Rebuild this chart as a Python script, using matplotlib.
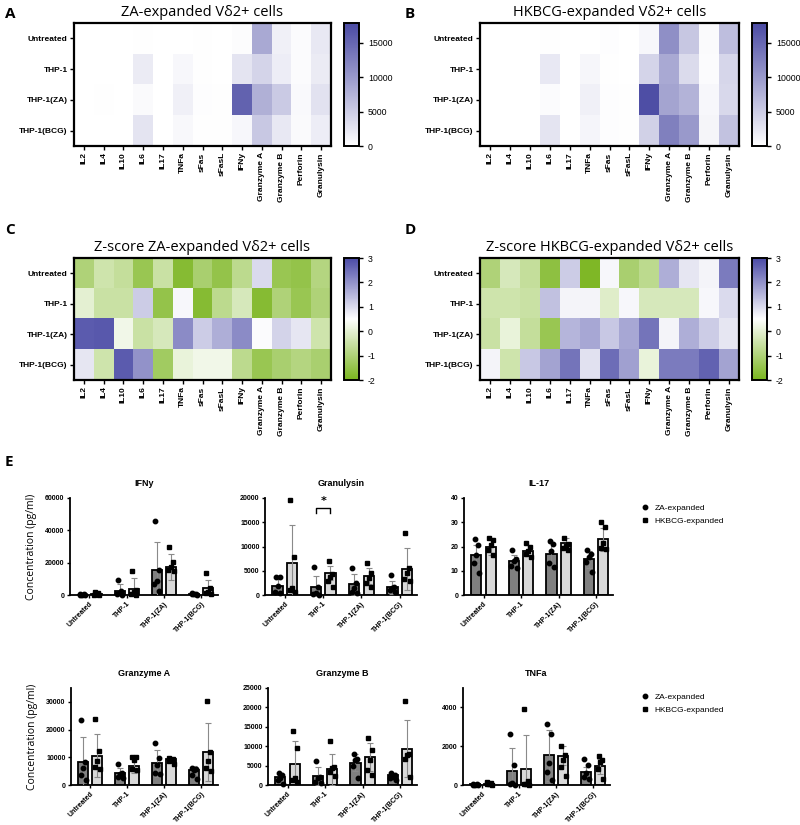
import numpy as np
import matplotlib.pyplot as plt
from matplotlib.colors import LinearSegmentedColormap
from matplotlib.lines import Line2D

plt.rcParams['axes.unicode_minus'] = False

cytokines = ['IL2', 'IL4', 'IL10', 'IL6', 'IL17', 'TNFa', 'sFas', 'sFasL', 'IFNy',
             'Granzyme A', 'Granzyme B', 'Perforin', 'Granulysin']
conditions = ['Untreated', 'THP-1', 'THP-1(ZA)', 'THP-1(BCG)']

# mean concentrations (pg/ml), rows = conditions
za_conc = [[30, 60, 20, 100, 20, 30, 120, 60, 300, 8400, 1500, 400, 2300],
           [30, 60, 20, 2000, 15, 730, 100, 50, 2700, 4200, 1700, 400, 2000],
           [60, 80, 25, 500, 20, 1500, 150, 80, 15500, 7800, 5200, 600, 2800],
           [35, 60, 40, 2600, 15, 650, 130, 70, 800, 5400, 2200, 500, 1700]]
bcg_conc = [[30, 50, 20, 100, 20, 60, 150, 60, 800, 11000, 5500, 500, 6400],
            [30, 50, 20, 2200, 20, 850, 130, 60, 4200, 8500, 3500, 400, 4000],
            [40, 50, 20, 400, 20, 1500, 150, 70, 17400, 9000, 7500, 700, 3800],
            [50, 50, 40, 2600, 25, 970, 200, 80, 4500, 12500, 10000, 1000, 6000]]

# z-scores
za_z = [[-1.0, -0.4, -0.6, -1.4, -0.5, -1.75, -1.1, -1.5, -0.75, 1.0, -1.4, -1.5, -0.9],
        [0.0, -0.5, -0.5, 1.2, -1.5, 0.6, -1.75, -0.75, -0.25, -1.75, -1.0, -1.4, -1.0],
        [2.75, 2.8, 0.25, -0.5, -0.25, 2.1, 1.2, 1.6, 2.1, 0.55, 1.1, 0.85, -0.4],
        [0.85, -0.4, 2.75, 2.0, -1.25, 0.1, 0.25, 0.25, -0.75, -1.4, -1.1, -0.9, -1.1]]
bcg_z = [[-1.0, -0.25, -0.6, -1.6, 1.2, -1.9, 0.6, -1.1, -0.75, 1.6, 0.85, 0.65, 2.3],
         [-0.4, -0.4, -0.5, 1.35, 0.65, 0.65, -0.1, 0.6, -0.25, -0.25, -0.25, 0.6, 1.0],
         [-0.5, 0.1, -0.6, -1.4, 1.5, 1.7, 1.25, 1.7, 2.4, 0.65, 1.6, 1.2, 0.85],
         [0.65, -0.4, 1.25, 1.75, 2.4, 0.9, 2.5, 1.8, 0.1, 2.3, 2.3, 2.65, 1.75]]

# panel E: donors, means, SD (ZA-expanded / HKBCG-expanded)
ifny_za_pts = [[700, 500, 300, 100, 0], [9300, 2500, 1000, 400, 0],
               [45500, 15500, 8700, 6600, 2500], [1500, 900, 700, 500, 300]]
ifny_za_mean = [300, 2500, 15500, 800]
ifny_za_sd = [300, 4100, 17200, 500]
ifny_bcg_pts = [[2000, 1200, 800, 300, 0], [15100, 3100, 1650, 400, 0],
                [29400, 20700, 17400, 15500, 15100], [13400, 4500, 2000, 1000, 400]]
ifny_bcg_mean = [900, 3700, 17400, 4500]
ifny_bcg_sd = [900, 6650, 7850, 4800]

gran_za_pts = [[3800, 3800, 1950, 700, 350], [5700, 1750, 350, 150, 0],
               [5600, 2450, 1400, 700, 350], [4200, 1750, 1400, 1000, 700]]
gran_za_mean = [1950, 1750, 2200, 1600]
gran_za_sd = [1500, 2250, 2200, 1300]
gran_bcg_pts = [[19600, 7800, 1400, 1000, 700], [7100, 4400, 3800, 2800, 1750],
                [6700, 4500, 3500, 2450, 1750], [12700, 5550, 4500, 3300, 2800]]
gran_bcg_mean = [6500, 4500, 3900, 5400]
gran_bcg_sd = [7900, 1500, 1700, 4300]

il17_za_pts = [[22.9, 20.8, 16.4, 13, 8.9], [18.5, 15, 14, 12, 11],
               [22.2, 21.2, 18.2, 13.4, 11.6], [18.5, 17.1, 15.8, 13.7, 9.3]]
il17_za_mean = [16.7, 14.0, 17.1, 14.8]
il17_za_sd = [3.8, 2.7, 4.5, 3.5]
il17_bcg_pts = [[23.3, 22.6, 20.5, 18.5, 16.7], [21.5, 20, 18, 17, 15.5],
                [23.7, 21.2, 20.3, 19.2, 18.5], [30.1, 28.1, 21.6, 19.2, 18.9]]
il17_bcg_mean = [19.9, 18.3, 21.6, 22.9]
il17_bcg_sd = [3.4, 2.4, 2.0, 4.9]

gzma_za_pts = [[23500, 8400, 6300, 3600, 1800], [7500, 4500, 3900, 3000, 2400],
               [15300, 9900, 7200, 4200, 3900], [6000, 5700, 5400, 3600, 2000]]
gzma_za_mean = [8400, 4200, 7800, 5400]
gzma_za_sd = [8800, 2100, 4800, 1500]
gzma_bcg_pts = [[23900, 12300, 8800, 6600, 5700], [10200, 10000, 9000, 5800, 5400],
                [9800, 9500, 9000, 8500, 7500], [30400, 12000, 8800, 6000, 5200]]
gzma_bcg_mean = [10600, 7000, 9300, 12000]
gzma_bcg_sd = [7800, 2500, 400, 10400]

gzmb_za_pts = [[3000, 2600, 1900, 1300, 250], [6200, 2100, 1700, 850, 400],
               [7900, 6800, 6400, 4900, 1900], [3200, 2600, 2100, 1700, 1300]]
gzmb_za_mean = [2100, 2300, 5700, 2600]
gzmb_za_sd = [1000, 2400, 2200, 600]
gzmb_bcg_pts = [[13900, 9600, 1700, 1300, 850], [11300, 4700, 4300, 3400, 2300],
                [12200, 9000, 6500, 3800, 2600], [21600, 8100, 7700, 6800, 2100]]
gzmb_bcg_mean = [5300, 4000, 7300, 9400]
gzmb_bcg_sd = [6100, 4100, 3600, 7300]

tnfa_za_pts = [[60, 40, 20, 10, 0], [2640, 1020, 80, 30, 0],
               [3130, 2650, 1110, 680, 255], [1330, 1020, 600, 430, 290]]
tnfa_za_mean = [30, 730, 1530, 680]
tnfa_za_sd = [30, 1170, 1300, 260]
tnfa_bcg_pts = [[150, 100, 60, 30, 0], [3930, 200, 60, 30, 0],
                [1990, 1530, 1280, 940, 460], [1480, 1280, 1190, 850, 290]]
tnfa_bcg_mean = [60, 850, 1510, 970]
tnfa_bcg_sd = [60, 1710, 480, 390]

W, H = 800, 825
fig = plt.figure(figsize=(8, 8.25), dpi=100)

def box(x0, y0, x1, y1):
    return [x0 / W, 1 - y1 / H, (x1 - x0) / W, (y1 - y0) / H]

blue_cm = LinearSegmentedColormap.from_list('wb', ['#ffffff', '#4a4aa3'])
gwb_cm = LinearSegmentedColormap.from_list('gwb', ['#7ab51e', '#ffffff', '#4a4aa6'])

def heat(pos, cpos, data, cmap, vmin, vmax, cticks, title):
    ax = fig.add_axes(box(*pos))
    im = ax.imshow(np.array(data), cmap=cmap, vmin=vmin, vmax=vmax, aspect='auto',
                   interpolation='nearest')
    ax.set_xticks(range(len(cytokines)))
    ax.set_xticklabels(cytokines, rotation=90, fontsize=6, fontweight='bold',
                       family='Liberation Sans')
    ax.set_yticks(range(len(conditions)))
    ax.set_yticklabels(conditions, fontsize=6, fontweight='bold', family='Liberation Sans')
    ax.tick_params(length=3, width=1, pad=1.5)
    for s in ax.spines.values():
        s.set_linewidth(1.6)
    ax.set_title(title, fontsize=10.5, family='Open Sans', pad=5)
    cax = fig.add_axes(box(*cpos))
    cb = fig.colorbar(im, cax=cax, ticks=cticks)
    cb.outline.set_linewidth(1.4)
    cax.tick_params(labelsize=6.3, length=3, width=1)
    for t in cax.get_yticklabels():
        t.set_family('Liberation Sans')
    return ax

heat((74, 23, 331, 146), (344, 23, 359, 146), za_conc, blue_cm, 0, 17900,
     [0, 5000, 10000, 15000], 'ZA-expanded V\u03b42+ cells')
heat((480, 23, 739, 146), (752, 23, 767, 146), bcg_conc, blue_cm, 0, 17900,
     [0, 5000, 10000, 15000], 'HKBCG-expanded V\u03b42+ cells')
heat((74, 258, 331, 380), (344, 258, 359, 380), za_z, gwb_cm, -2, 3,
     [-2, -1, 0, 1, 2, 3], 'Z-score ZA-expanded V\u03b42+ cells')
heat((480, 258, 739, 380), (752, 258, 767, 380), bcg_z, gwb_cm, -2, 3,
     [-2, -1, 0, 1, 2, 3], 'Z-score HKBCG-expanded V\u03b42+ cells')

for lab, x, y in [('A', 5, 14), ('B', 405, 14), ('C', 5, 230), ('D', 405, 230), ('E', 5, 462)]:
    fig.text(x / W, 1 - y / H, lab, fontsize=11, fontweight='bold', family='Open Sans',
             va='center')

jit = [-0.05, 0.05, 0.0, -0.07, 0.07]
xg = np.arange(len(conditions))

def bars(pos, title, zp, zm, zs, bp, bm, bs, ymax, yticks, ylabel=False):
    ax = fig.add_axes(box(*pos))
    for off, m, s, pts, col, mk in [(-0.19, zm, zs, zp, '#808080', 'o'),
                                    (0.19, bm, bs, bp, '#d9d9d9', 's')]:
        ax.bar(xg + off, m, width=0.27, color=col, edgecolor='black', linewidth=1.3, zorder=2)
        ax.errorbar(xg + off, m, yerr=s, fmt='none', ecolor='#8a8a8a', elinewidth=0.8,
                    capsize=2, capthick=0.8, zorder=3)
        for i in range(len(xg)):
            ax.plot(xg[i] + off + np.array(jit), pts[i], mk, color='black',
                    markersize=3.2, zorder=4, clip_on=False)
    ax.set_xlim(-0.52, 3.45)
    ax.set_ylim(0, ymax)
    ax.set_yticks(yticks)
    ax.set_yticklabels([str(v) for v in yticks], fontsize=5, fontweight='bold',
                       family='Liberation Sans')
    ax.set_xticks(xg)
    ax.set_xticklabels(conditions, rotation=45, ha='right', rotation_mode='anchor',
                       fontsize=5, fontweight='bold', family='Liberation Sans')
    ax.tick_params(length=2.5, width=1, pad=1.5)
    for s in ['top', 'right']:
        ax.spines[s].set_visible(False)
    for s in ['left', 'bottom']:
        ax.spines[s].set_linewidth(1.3)
    ax.set_title(title, fontsize=6.5, fontweight='bold', family='Liberation Sans', pad=9)
    if ylabel:
        ax.set_ylabel('Concentration (pg/ml)', fontsize=7.5, family='Open Sans', labelpad=6)
    return ax

bars((70, 498, 218, 595), 'IFNy', ifny_za_pts, ifny_za_mean, ifny_za_sd,
     ifny_bcg_pts, ifny_bcg_mean, ifny_bcg_sd, 60000, [0, 20000, 40000, 60000], True)
axg = bars((265, 498, 417, 595), 'Granulysin', gran_za_pts, gran_za_mean, gran_za_sd,
           gran_bcg_pts, gran_bcg_mean, gran_bcg_sd, 20000, [0, 5000, 10000, 15000, 20000])
axi = bars((464, 498, 613, 595), 'IL-17', il17_za_pts, il17_za_mean, il17_za_sd,
           il17_bcg_pts, il17_bcg_mean, il17_bcg_sd, 40, [0, 10, 20, 30, 40])
bars((71, 688, 218, 785), 'Granzyme A', gzma_za_pts, gzma_za_mean, gzma_za_sd,
     gzma_bcg_pts, gzma_bcg_mean, gzma_bcg_sd, 35000, [0, 10000, 20000, 30000], True)
bars((268, 688, 417, 785), 'Granzyme B', gzmb_za_pts, gzmb_za_mean, gzmb_za_sd,
     gzmb_bcg_pts, gzmb_bcg_mean, gzmb_bcg_sd, 25000, [0, 5000, 10000, 15000, 20000, 25000])
axt = bars((463, 688, 610, 785), 'TNFa', tnfa_za_pts, tnfa_za_mean, tnfa_za_sd,
           tnfa_bcg_pts, tnfa_bcg_mean, tnfa_bcg_sd, 5000, [0, 2000, 4000])

# significance bracket THP-1
axg.plot([1 - 0.19, 1 - 0.19, 1 + 0.19, 1 + 0.19], [17000, 18000, 18000, 17000],
         color='black', lw=1, clip_on=False)
axg.text(1, 18400, '*', ha='center', va='bottom', fontsize=8, fontweight='bold')

handles = [Line2D([], [], marker='o', ls='', color='black', markersize=3.2),
           Line2D([], [], marker='s', ls='', color='black', markersize=3.2)]
for ax, y in [(axi, 497), (axt, 686)]:
    ax.legend(handles, ['ZA-expanded', 'HKBCG-expanded'], loc='upper left',
              bbox_to_anchor=(632 / W, 1 - y / H), bbox_transform=fig.transFigure,
              frameon=False, prop={'family': 'Liberation Sans', 'size': 6},
              handletextpad=0.6, labelspacing=0.6, handlelength=1.2)

fig.savefig('out.png', dpi=100)
